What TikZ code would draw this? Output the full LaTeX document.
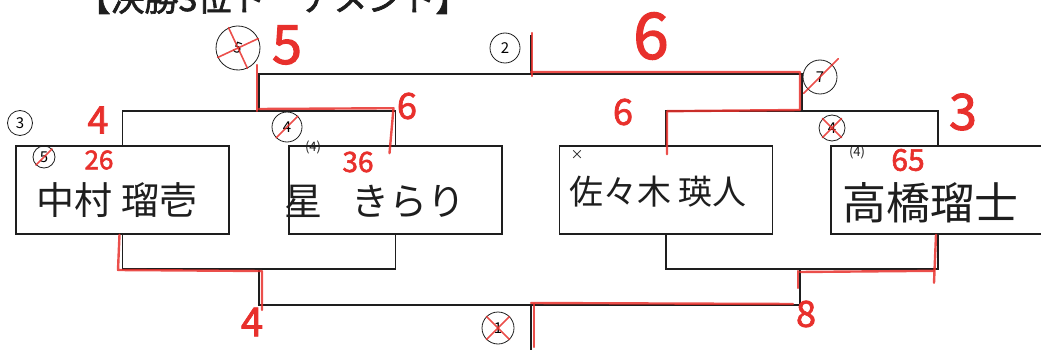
\documentclass[tikz,border=0pt]{standalone}
\usepackage{fontspec}
\newfontfamily\jp{Noto Sans CJK JP}
\newfontfamily\jpbold{Noto Sans CJK JP}[FakeBold=2]
\usetikzlibrary{calc}
\definecolor{pen}{HTML}{E8302C}
\definecolor{ink}{HTML}{1E1E1E}

\begin{document}
\begin{tikzpicture}[x=1pt,y=-1pt,
	player/.style={draw=ink,line width=1.6pt,minimum width=213pt,minimum height=88pt,inner sep=0pt},
	pname/.style={inner sep=0pt,text=ink,font=\jp\fontsize{#1}{#1}\selectfont},
	bracket/.style={draw=ink,line width=1.6pt},
	redline/.style={draw=pen,line width=2.4pt,line cap=round,line join=round,opacity=.85},
	score/.style={inner sep=0pt,text=pen,font=\jpbold\fontsize{#1}{#1}\selectfont},
	seed/.style={draw=ink,circle,line width=.8pt,inner sep=0pt,minimum size=#1,font=\jp\fontsize{15}{15}\selectfont},
	pair/.style={inner sep=0pt,text=ink,font=\jp\fontsize{13}{13}\selectfont}]
	\useasboundingbox (0,0) rectangle (1041,350);
	\node[anchor=base,inner sep=0pt,text=ink,font=\jpbold\fontsize{34}{34}\selectfont] (heading) at (273,11) {【決勝3位トーナメント】};
	\node[player] (nakamura) at (122.5,190) {};
	\node[player] (hoshi) at (395.5,190) {};
	\node[player] (sasaki) at (666,190) {};
	\node[player,minimum width=214pt] (takahashi) at (938,190) {};
	\node[pname=38] (nakamura-t) at (117,200) {中村\hspace{10pt}瑠壱};
	\node[pname=38] (hoshi-t) at (375,202) {星\hspace{30pt}きらり};
	\node[pname=34] (sasaki-t) at (658,192) {佐々木\hspace{8pt}瑛人};
	\node[pname=44] (takahashi-t) at (930,203) {高橋瑠士};
	\coordinate (semiA) at (259,111);
	\coordinate (semiB) at (802,111);
	\coordinate (final) at (531,74);
	\coordinate (champ) at (531,35);
	\coordinate (loseA) at (259,269);
	\coordinate (loseB) at (800,269);
	\coordinate (third) at (531,305);
	\coordinate (thirdend) at (531,355);
	\draw[bracket] (nakamura.north) |- (semiA) -| (hoshi.north);
	\draw[bracket] (sasaki.north) |- (semiB) -| (takahashi.north);
	\draw[bracket] (semiA) |- (final) -| (semiB);
	\draw[bracket] (final) -- (champ);
	\draw[bracket] (nakamura.south) |- (loseA) -| (hoshi.south);
	\draw[bracket] (sasaki.south) |- (loseB) -| (takahashi.south);
	\draw[bracket] (loseA) |- (third) -| (loseB);
	\draw[bracket] (third) -- (thirdend);
	\draw[redline] ($(semiA)+(-2,0)$) -- ($(semiA)+(-2,-46)$);
	\draw[redline] ($(semiA)+(0,-2)$) -- ($(hoshi.north)+(-2,-37)$) -- ($(hoshi.north)+(-6,8)$);
	\draw[redline] ($(champ)+(1,-2)$) -- ($(final)+(1,2)$);
	\draw[redline] ($(final)+(0,-2)$) -- ($(semiB)+(-2,-39)$) -- ($(semiB)+(-2,-1)$) -- ($(sasaki.north)+(1,-34)$) -- ($(sasaki.north)+(1,9)$);
	\draw[redline] ($(nakamura.south)+(-3,0)$) -- ($(loseA)+(-141,1)$) -- ($(loseA)+(3,2)$) -- ($(loseA)+(3,41)$);
	\draw[redline] ($(takahashi.south)+(-2,0)$) -- ($(takahashi.south)+(-4,48)$);
	\draw[redline] ($(loseB)+(0,3)$) -- ($(takahashi.south)+(-4,36)$);
	\draw[redline] ($(loseB)+(-2,2)$) -- ($(loseB)+(-2,19)$);
	\draw[redline] ($(third)+(0,-2)$) -- ($(loseB)+(-7,35)$);
	\draw[redline] ($(third)+(3,-1)$) -- ($(thirdend)+(3,-8)$);
	\node[score=54] (s-five) at (287,45) {5};
	\node[score=64] (s-final) at (651,36) {6};
	\node[score=38] (s-nak) at (98,120) {4};
	\node[score=36] (s-hos) at (407,106) {6};
	\node[score=26] (s-nak2) at (99,160) {26};
	\node[score=28] (s-hos2) at (358,162) {36};
	\node[score=36] (s-sas) at (623,112) {6};
	\node[score=50] (s-tak) at (963,112) {3};
	\node[score=30] (s-tak2) at (908,160) {65};
	\node[score=40] (s-loseA) at (252,322) {4};
	\node[score=36] (s-loseB) at (806,314) {8};
	\node[seed=44pt,rotate=-20] (c-five) at (238,48) {5};
	\node[seed=30pt] (c-two) at (505,48) {2};
	\node[seed=34pt] (c-seven) at (820,77) {7};
	\node[seed=25pt] (c-three) at (20,123) {3};
	\node[seed=22pt] (c-nak) at (44,157) {5};
	\node[seed=30pt] (c-hos) at (287,127) {4};
	\node[pair] (p-hos) at (313,147) {(4)};
	\node[seed=26pt] (c-tak) at (832,128) {4};
	\node[pair] (p-tak) at (857,152) {(4)};
	\node[seed=32pt] (c-one) at (498,328) {1};
	\node[pair] (x-sas) at (577,155) {×};
	\draw[redline,line width=1.6pt] (c-five.south west) -- (c-five.north east);
	\draw[redline,line width=1.6pt] (c-five.north west) -- (c-five.south east);
	\draw[redline,line width=1.6pt] (c-one.south west) -- (c-one.north east);
	\draw[redline,line width=1.6pt] (c-one.north west) -- (c-one.south east);
	\draw[redline,line width=1.6pt] (c-tak.south west) -- (c-tak.north east);
	\draw[redline,line width=1.6pt] (c-tak.north west) -- (c-tak.south east);
	\draw[redline,line width=1.6pt] (c-hos.south west) -- (c-hos.north east);
	\draw[redline,line width=1.6pt] (c-nak.south west) -- (c-nak.north east);
	\draw[redline,line width=1.6pt] ($(c-seven.south west)+(-4,4)$) -- ($(c-seven.north east)+(6,-6)$);
\end{tikzpicture}
\end{document}
